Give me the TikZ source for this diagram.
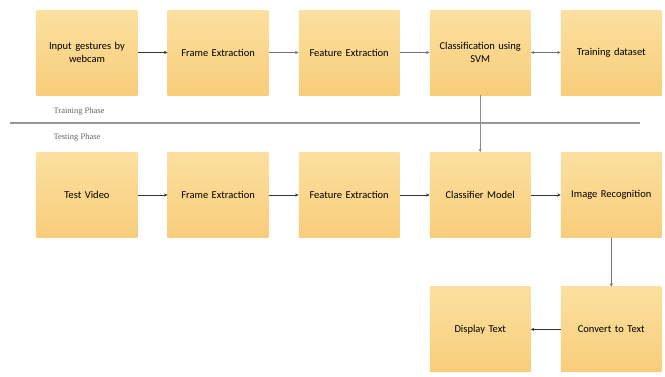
\documentclass[tikz,border=0pt]{standalone}
\usepackage{fontspec}
\setmainfont{Carlito}
\newfontfamily\phasefont{Liberation Serif}
\usetikzlibrary{
    positioning,
    arrows.meta
}
\definecolor{boxTop}{RGB}{252,224,160}
\definecolor{boxBottom}{RGB}{248,205,122}
\definecolor{lineGray}{RGB}{150,150,150}

\begin{document}
\begin{tikzpicture}[x=1pt, y=1pt, >={Stealth[length=3.5pt, width=3pt]},
        stage/.style={rectangle, top color=boxTop, bottom color=boxBottom,
            minimum width=100pt, minimum height=85pt, text width=94pt,
            align=center, font=\fontsize{10.5}{12.5}\selectfont},
        flow/.style={->, thin, black!80},
        phase/.style={anchor=west, text=black!60, font=\phasefont\fontsize{8.5}{10}\selectfont}]
        \useasboundingbox (0,0) rectangle (665,-376);
        % training phase
        \node[stage] (input) at (87,-52.5) {Input gestures by\\ webcam};
        \node[stage, right=30pt of input] (frameA) {Frame Extraction};
        \node[stage, right=30pt of frameA] (featA) {Feature Extraction};
        \node[stage, right=30pt of featA] (svm) {Classification using\\ SVM};
        \node[stage, right=30pt of svm] (dataset) {Training dataset};
        \draw[flow] (input) -- (frameA);
        \draw[flow, black!55] (frameA) -- (featA);
        \draw[flow, black!55] (featA) -- (svm);
        \draw[flow, <->, black!55] (svm) -- (dataset);
        % phase separator
        \node[phase] (train) at (50,-111) {Training Phase};
        \coordinate (sepL) at (10,-123);
        \coordinate (sepR) at (640,-123);
        \draw[lineGray, line width=1.5pt] (sepL) -- (sepR);
        \node[phase] (test) at (50,-137) {Testing Phase};
        % testing phase
        \node[stage] (video) at (87,-195) {Test Video};
        \node[stage, right=30pt of video] (frameB) {Frame Extraction};
        \node[stage, right=30pt of frameB] (featB) {Feature Extraction};
        \node[stage, right=30pt of featB] (model) {Classifier Model};
        \node[stage, right=30pt of model] (recog) {Image Recognition};
        \node[stage, below=49pt of recog] (convert) {Convert to Text};
        \node[stage, left=30pt of convert] (display) {Display Text};
        \draw[flow] (video) -- (frameB);
        \draw[flow] (frameB) -- (featB);
        \draw[flow] (featB) -- (model);
        \draw[flow] (model) -- (recog);
        \draw[flow, black!45] (svm) -- (model);
        \draw[flow, black!55] (recog) -- (convert);
        \draw[flow] (convert) -- (display);
    \end{tikzpicture}
\end{document}
